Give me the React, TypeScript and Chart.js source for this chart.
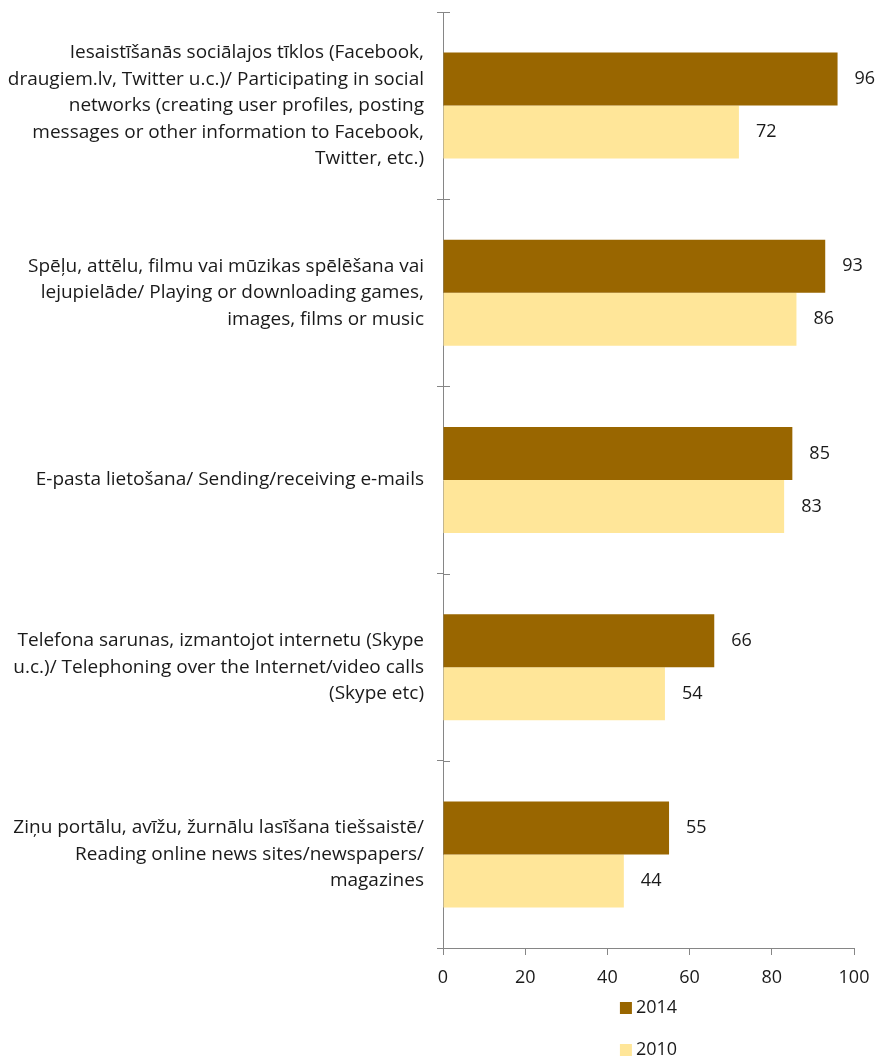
import React, { useEffect, useRef } from "react";
import { Chart, registerables } from "chart.js";

Chart.register(...registerables);

const categories: string[][] = [
  [
    "Iesaistīšanās sociālajos tīklos (Facebook,",
    "draugiem.lv, Twitter u.c.)/ Participating in social",
    "networks (creating user profiles, posting",
    "messages or other information to Facebook,",
    "Twitter, etc.)",
  ],
  [
    "Spēļu, attēlu, filmu vai mūzikas spēlēšana vai",
    "lejupielāde/ Playing or downloading games,",
    "images, films or music",
  ],
  ["E-pasta lietošana/ Sending/receiving e-mails"],
  [
    "Telefona sarunas, izmantojot internetu (Skype",
    "u.c.)/ Telephoning over the Internet/video calls",
    "(Skype etc)",
  ],
  [
    "Ziņu portālu, avīžu, žurnālu lasīšana tiešsaistē/",
    "Reading online news sites/newspapers/",
    "magazines",
  ],
];

const values2014: number[] = [96, 93, 85, 66, 55];
const values2010: number[] = [72, 86, 83, 54, 44];
const seriesNames: string[] = ["2014", "2010"];
const seriesColors: string[] = ["#996600", "#FFE699"];

const FONT = "Open Sans";
const FS = 19;
const NFS = 18;
const AXIS_COLOR = "#868686";
const TEXT_COLOR = "#1a1a1a";

const valueLabelPlugin = {
  id: "valueLabels",
  afterDatasetsDraw(chart: any) {
    const ctx = chart.ctx;
    ctx.save();
    ctx.font = `${NFS}px "${FONT}"`;
    ctx.fillStyle = TEXT_COLOR;
    ctx.textAlign = "left";
    ctx.textBaseline = "middle";
    chart.data.datasets.forEach((ds: any, i: number) => {
      const meta = chart.getDatasetMeta(i);
      meta.data.forEach((bar: any, j: number) => {
        ctx.fillText(String(ds.data[j]), bar.x + 17, bar.y);
      });
    });
    ctx.restore();
  },
};

const crossTickPlugin = {
  id: "crossTicks",
  afterDraw(chart: any) {
    const y = chart.scales.y;
    const ctx = chart.ctx;
    const left = chart.chartArea.left;
    ctx.save();
    ctx.strokeStyle = AXIS_COLOR;
    ctx.lineWidth = 1;
    const n = chart.data.labels.length;
    for (let i = 0; i <= n; i++) {
      const py = Math.round(y.getPixelForValue(i - 0.5)) + 0.5;
      ctx.beginPath();
      ctx.moveTo(left, py);
      ctx.lineTo(left + 7, py);
      ctx.stroke();
    }
    ctx.restore();
  },
};

const legendPlugin = {
  id: "customLegend",
  afterDraw(chart: any) {
    const ctx = chart.ctx;
    const area = chart.chartArea;
    ctx.save();
    ctx.font = `${NFS}px "${FONT}"`;
    ctx.textBaseline = "middle";
    ctx.textAlign = "left";
    const cx = (area.left + area.right) / 2;
    const rowYs = [area.bottom + 60, area.bottom + 102];
    chart.data.datasets.forEach((ds: any, i: number) => {
      const tw = ctx.measureText(ds.label).width;
      const total = 12 + 4 + tw;
      const x0 = cx - total / 2;
      const yy = rowYs[i];
      ctx.fillStyle = ds.backgroundColor;
      ctx.fillRect(x0, yy - 6, 12, 12);
      ctx.fillStyle = TEXT_COLOR;
      ctx.fillText(ds.label, x0 + 16, yy);
    });
    ctx.restore();
  },
};

export default function App() {
  const ref = useRef<HTMLCanvasElement>(null);
  useEffect(() => {
    const prevMargin = document.body.style.margin;
    document.body.style.margin = "0";
    if (!ref.current) return;
    const chart = new Chart(ref.current, {
      type: "bar",
      data: {
        labels: categories,
        datasets: [
          {
            label: seriesNames[0],
            data: values2014,
            backgroundColor: seriesColors[0],
            barPercentage: 1,
            categoryPercentage: 0.566,
          },
          {
            label: seriesNames[1],
            data: values2010,
            backgroundColor: seriesColors[1],
            barPercentage: 1,
            categoryPercentage: 0.566,
          },
        ],
      },
      options: {
        indexAxis: "y",
        animation: false,
        responsive: false,
        devicePixelRatio: 1,
        layout: { padding: { top: 4, right: 25, bottom: 65, left: 0 } },
        plugins: {
          legend: { display: false },
          tooltip: { enabled: false },
        },
        scales: {
          x: {
            min: 0,
            max: 100,
            ticks: {
              stepSize: 20,
              padding: 12,
              color: TEXT_COLOR,
              font: { family: FONT, size: NFS },
            },
            grid: {
              drawOnChartArea: false,
              tickLength: 7,
              color: AXIS_COLOR,
            },
            border: { color: AXIS_COLOR },
            afterFit: (s: any) => {
              s.height = 45;
              s.paddingLeft = 0;
              s.paddingRight = 0;
            },
          },
          y: {
            ticks: {
              padding: 13,
              color: TEXT_COLOR,
              font: { family: FONT, size: FS, lineHeight: 26.5 / FS },
            },
            grid: {
              drawOnChartArea: false,
              tickLength: 6,
              color: AXIS_COLOR,
              offset: true,
            },
            border: { color: AXIS_COLOR },
            afterFit: (s: any) => {
              s.width = 435;
              s.paddingTop = 0;
              s.paddingBottom = 0;
            },
          },
        },
      },
      plugins: [valueLabelPlugin, crossTickPlugin, legendPlugin],
    });
    return () => {
      chart.destroy();
      document.body.style.margin = prevMargin;
    };
  }, []);
  return (
    <div style={{ paddingTop: 8, paddingLeft: 8, width: 871, height: 1050 }}>
      <canvas
        ref={ref}
        width={871}
        height={1050}
        style={{ display: "block", width: 871, height: 1050 }}
      />
    </div>
  );
}
